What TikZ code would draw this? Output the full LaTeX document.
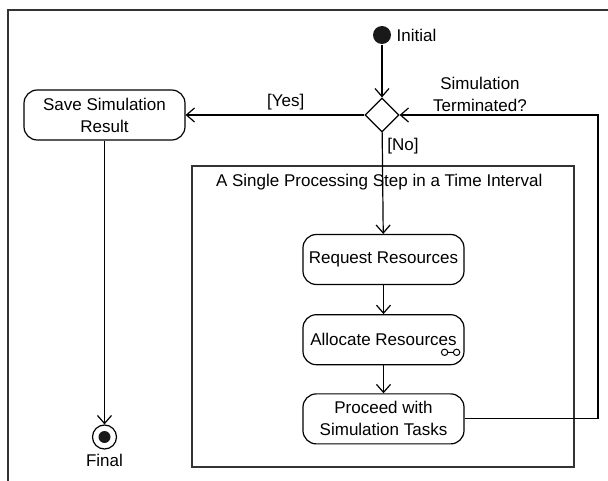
\documentclass[tikz,border=0pt]{standalone}
\usepackage{fontspec}
\setmainfont{Liberation Sans}
\usetikzlibrary{arrows.meta,positioning,shapes.geometric}
\tikzset{
  actnode/.style = {rectangle, rounded corners=10pt, draw=black, align=center,
    minimum width=120.75pt, minimum height=37.5pt, inner sep=2pt},
  act_init/.style = {circle, fill=black!90, minimum size=13.5pt, inner sep=0pt},% start
  act_final/.style = {circle, draw=black, minimum size=18pt, inner sep=0pt,
    path picture={\fill[black!90] (path picture bounding box.center) circle (4.5pt);}},% end
  act_dec/.style = {diamond, draw=black, minimum size=25.5pt, inner sep=0pt},
  act_frame/.style = {rectangle, draw=black!80, line width=1pt}
}

\begin{document}
\begin{tikzpicture}[->,>={Straight Barb[length=6pt,width=10.5pt]}, line width=0.9pt,
  x=0.75pt, y=-0.75pt, font=\fontsize{12.75pt}{16.5pt}\selectfont]
\useasboundingbox (0,0) rectangle (608,481);
\draw[-, draw=black!80, line width=1.2pt] (608,10) -- (8,10) -- (8,481);

\node [act_init, label=right:Initial] (init) at (382,35) {};
\node [act_dec] (decide) at (382,115) {};
\node [actnode] (save) at (104.5,115) {Save Simulation\\Result};
\node [act_final, label=below:Final] (final) at (104.5,437) {};
\node [act_frame, minimum width=286.5pt, minimum height=225.75pt] (region) at (383,316.5) {};
\node [anchor=west] (regtitle) at (211,182) {A Single Processing Step in a Time Interval};
\node [actnode] (request) at (383.5,259.5) {Request Resources};
\node [actnode, below=21.75pt of request] (allocate) {Allocate Resources};
\node [actnode, below=21pt of allocate] (proceed) {Proceed with\\Simulation Tasks};
\node [align=center] (termq) at (480,94) {Simulation\\Terminated?};
\coordinate (loop) at (598,115);

\draw (init) -- (decide);
\draw (decide) -- node[above, pos=0.44] {[Yes]} (save);
\draw (decide) -- node[right, pos=0.13] {[No]} (request);
\draw (request) -- (allocate);
\draw (allocate) -- (proceed);
\draw (proceed) -| (loop) -- (decide);
\draw (save) -- (final);

% rake mark
\draw[-, line width=0.75pt] ([shift={(-15pt,9.75pt)}]allocate.south east) circle (2.4pt)
  ([shift={(-6pt,9.75pt)}]allocate.south east) circle (2.4pt)
  ([shift={(-12.6pt,9.75pt)}]allocate.south east) -- ([shift={(-8.4pt,9.75pt)}]allocate.south east);
\end{tikzpicture}
\end{document}
